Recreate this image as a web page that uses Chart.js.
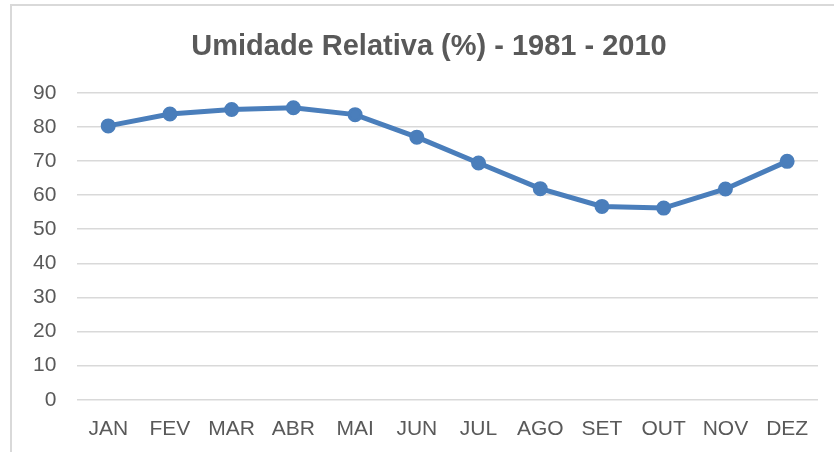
<!DOCTYPE html>
<html>
<head>
<meta charset="utf-8">
<script src="https://cdn.jsdelivr.net/npm/chart.js@4.4.1/dist/chart.umd.min.js"></script>
<style>
  html, body { margin: 0; padding: 0; background: #fff; overflow: hidden; }
  #box {
    position: absolute; left: 10px; top: 4px;
    width: 830px; height: 460px;
    border-left: 2px solid #d9d9d9; border-top: 2px solid #d9d9d9;
  }
  #umidadeChart { position: absolute; left: 0; top: 0; }
</style>
</head>
<body>
<div id="box"><canvas id="umidadeChart" width="822" height="453"></canvas></div>
<script>
// meses e umidade relativa media (%), normal 1981-2010
var meses = ["JAN", "FEV", "MAR", "ABR", "MAI", "JUN", "JUL", "AGO", "SET", "OUT", "NOV", "DEZ"];
var umidade = [80.3, 83.8, 85.1, 85.6, 83.6, 77.0, 69.4, 61.9, 56.7, 56.2, 61.8, 69.9];
var eixoMin = 0, eixoMax = 90, passo = 10;

var cinza = '#595959';
var azul = '#4a7ebb';
var fonte = 'Liberation Sans, Arial, sans-serif';

// desloca o titulo para ficar centrado sobre a area de plotagem
var tituloCentrado = {
  id: 'tituloCentrado',
  afterLayout: function (chart) {
    if (chart.titleBlock) chart.titleBlock.left += 28;
  }
};

var ctx = document.getElementById("umidadeChart").getContext('2d');
var chart = new Chart(ctx, {
  type: 'line',
  data: {
    labels: meses,
    datasets: [{
      label: "Umidade Relativa (%)",
      data: umidade,
      borderColor: azul,
      backgroundColor: azul,
      borderWidth: 5,
      pointRadius: 6,
      pointBorderWidth: 3,
      pointBackgroundColor: azul,
      pointBorderColor: azul,
      tension: 0,
      fill: false
    }]
  },
  plugins: [tituloCentrado],
  options: {
    responsive: false,
    animation: false,
    layout: { padding: { left: 0, right: 16, top: 0, bottom: 0 } },
    plugins: {
      legend: { display: false },
      tooltip: { enabled: false },
      title: {
        display: true,
        text: 'Umidade Relativa (%) - 1981 - 2010',
        color: cinza,
        font: { family: fonte, size: 29, weight: 'bold' },
        padding: { top: 24, bottom: 28 }
      }
    },
    scales: {
      x: {
        offset: true,
        grid: { display: false, drawTicks: false },
        border: { display: false },
        ticks: {
          color: cinza,
          padding: 17,
          maxRotation: 0,
          autoSkip: false,
          font: { family: fonte, size: 21 }
        }
      },
      y: {
        min: eixoMin,
        max: eixoMax,
        grid: { color: '#d9d9d9', lineWidth: 1.5, drawTicks: false },
        border: { display: false },
        ticks: {
          stepSize: passo,
          color: cinza,
          padding: 21,
          font: { family: fonte, size: 21 }
        }
      }
    }
  }
});
</script>
</body>
</html>
